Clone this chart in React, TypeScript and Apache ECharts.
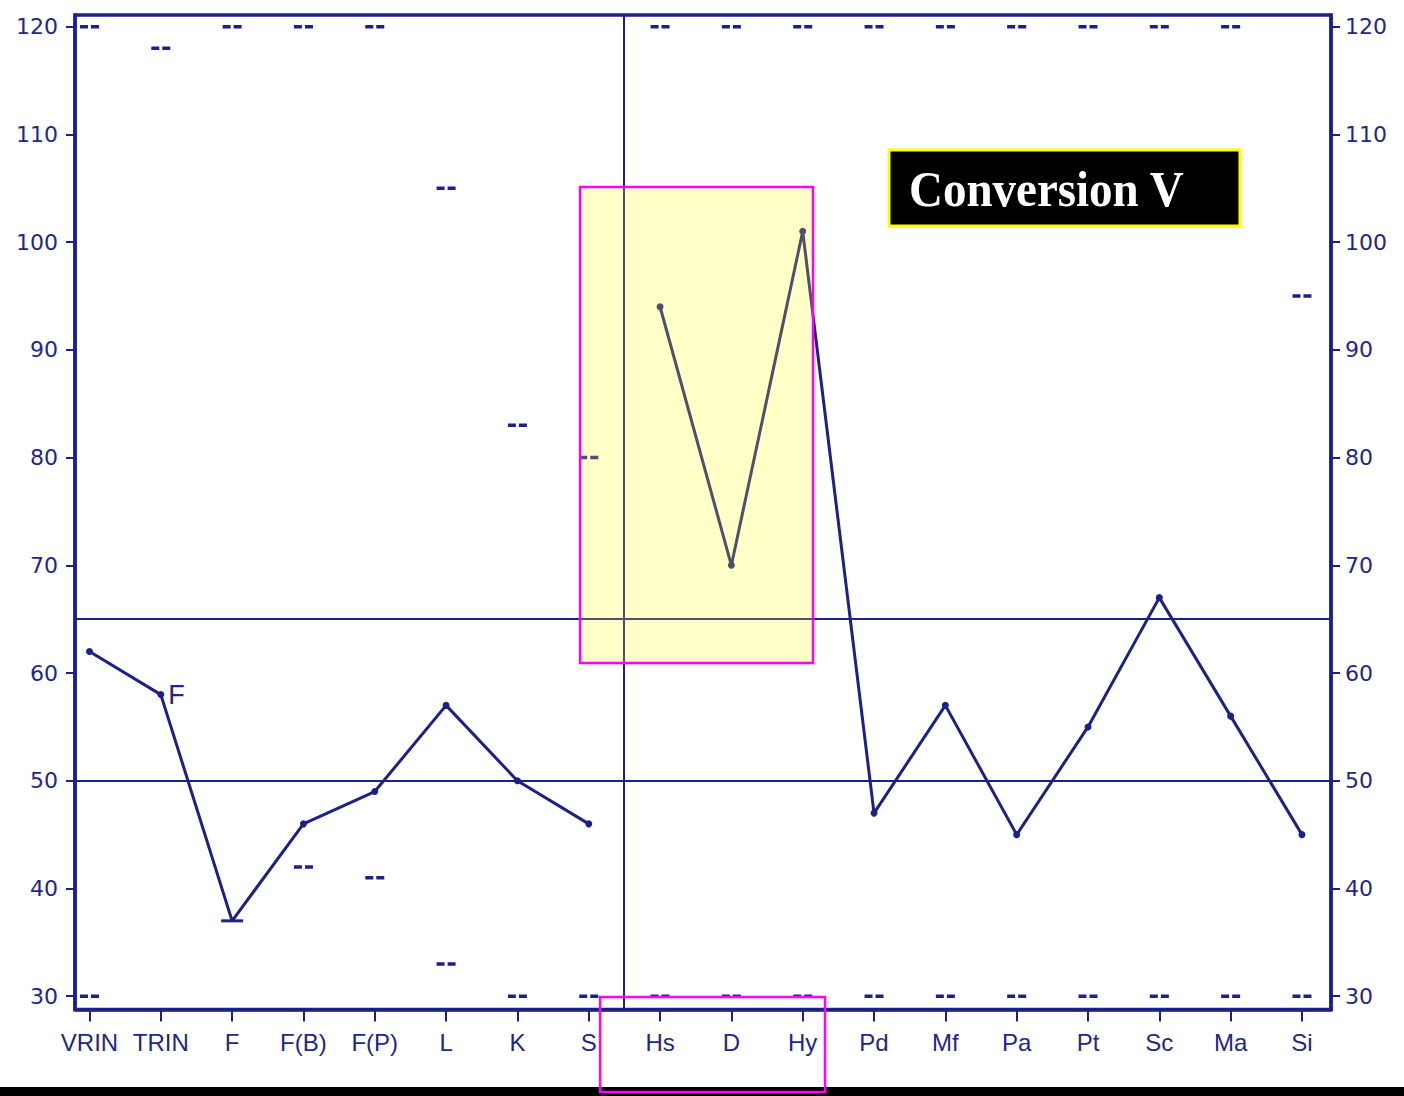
import React, { useEffect, useRef } from "react";
import * as echarts from "echarts";

const categories = ["VRIN", "TRIN", "F", "F(B)", "F(P)", "L", "K", "S", "Hs", "D", "Hy", "Pd", "Mf", "Pa", "Pt", "Sc", "Ma", "Si"];
const validityScores = [62, 58, 37, 46, 49, 57, 50, 46]; // VRIN .. S
const clinicalScores = [94, 70, 101, 47, 57, 45, 55, 67, 56, 45]; // Hs .. Si
const upperMarks = [120, 118, 120, 120, 120, 105, 83, 80, 120, 120, 120, 120, 120, 120, 120, 120, 120, 95];
const lowerMarks = [30, null, null, 42, 41, 33, 30, 30, 30, 30, 30, 30, 30, 30, 30, 30, 30, 30];
const yTicks = [30, 40, 50, 60, 70, 80, 90, 100, 110, 120];
const referenceLines = [65, 50];
const dividerPosition = 7.49;
const trinLabel = "F";
const annotationText = "Conversion V";

const NAVY = "#1b2188";
const TEXT = "#1d2790";
const XFONT = "'Liberation Sans', Arial, sans-serif";
const YFONT = "'DejaVu Sans', 'Liberation Sans', sans-serif";
const DASH = "path://M0 0H8V3H0ZM11 0H19V3H11Z";
const FLOOR = "path://M0 0H20V3H0Z";

export default function App() {
  const ref = useRef<HTMLDivElement>(null);
  useEffect(() => {
    if (!ref.current) return;
    const chart = echarts.init(ref.current, null, { renderer: "svg" });
    const xIdx = categories.map((_, i) => i);

    const validityData = validityScores.map((v, i) => {
      const item: any = { value: [i, v] };
      if (i === 1) {
        item.label = {
          show: true,
          position: "right",
          distance: 4,
          formatter: trinLabel,
          fontSize: 27,
          color: TEXT,
          fontFamily: XFONT,
        };
      }
      if (i === 2) {
        item.symbol = FLOOR;
        item.symbolSize = [22, 3];
      }
      return item;
    });
    const clinicalData = clinicalScores.map((v, i) => [i + 8, v]);

    const yAxisBase = (pos: "left" | "right") => ({
      type: "value",
      position: pos,
      min: 28.77,
      max: 121.08,
      axisLine: { show: true, onZero: false, lineStyle: { color: NAVY, width: 3.5 } },
      axisTick: { show: true, customValues: yTicks, length: 9, lineStyle: { color: NAVY, width: 2 } },
      axisLabel: {
        show: true,
        customValues: yTicks,
        margin: pos === "left" ? 17 : 14,
        fontSize: 22,
        color: TEXT,
        fontFamily: YFONT,
      },
      splitLine: { show: false },
    });

    chart.setOption({
      animation: false,
      backgroundColor: "#ffffff",
      grid: {
        left: 75,
        right: 73,
        top: 15,
        bottom: 86.5,
        show: true,
        borderColor: NAVY,
        borderWidth: 3.5,
        backgroundColor: "transparent",
      },
      xAxis: {
        type: "value",
        min: -0.203,
        max: 17.407,
        axisLine: { show: true, onZero: false, lineStyle: { color: NAVY, width: 3.5 } },
        axisTick: { show: true, customValues: xIdx, length: 12, lineStyle: { color: NAVY, width: 2 } },
        axisLabel: {
          show: true,
          customValues: xIdx,
          formatter: (v: number) => categories[Math.round(v)] ?? "",
          margin: 21,
          fontSize: 24,
          color: TEXT,
          fontFamily: XFONT,
        },
        splitLine: { show: false },
      },
      yAxis: [yAxisBase("left"), yAxisBase("right")],
      series: [
        {
          type: "line",
          data: validityData,
          symbol: "circle",
          symbolSize: 7,
          itemStyle: { color: NAVY },
          lineStyle: { color: NAVY, width: 3 },
          z: 3,
          markLine: {
            silent: true,
            symbol: "none",
            label: { show: false },
            lineStyle: { color: NAVY, width: 2, type: "solid" },
            data: [
              ...referenceLines.map((y) => ({ yAxis: y })),
              { xAxis: dividerPosition },
            ],
          },
        },
        {
          type: "line",
          data: clinicalData,
          symbol: "circle",
          symbolSize: 7,
          itemStyle: { color: NAVY },
          lineStyle: { color: NAVY, width: 3 },
          z: 3,
        },
        {
          type: "scatter",
          data: upperMarks.map((v, i) => [i, v]),
          symbol: DASH,
          symbolSize: [19, 3.5],
          itemStyle: { color: NAVY, opacity: 1 },
          z: 2,
        },
        {
          type: "scatter",
          data: lowerMarks.map((v, i) => (v == null ? [i, "-"] : [i, v])),
          symbol: DASH,
          symbolSize: [19, 3.5],
          itemStyle: { color: NAVY, opacity: 1 },
          z: 2,
        },
      ],
      graphic: [
        {
          type: "rect",
          z: 100,
          shape: { x: 580, y: 187, width: 233, height: 476 },
          style: { fill: "rgba(255,255,0,0.22)", stroke: "#ff00ff", lineWidth: 2.5 },
        },
        {
          type: "rect",
          z: 99,
          shape: { x: 0, y: 1087, width: 1404, height: 9 },
          style: { fill: "#000000" },
        },
        {
          type: "rect",
          z: 101,
          shape: { x: 600, y: 997, width: 225, height: 95 },
          style: { fill: "none", stroke: "#ff00ff", lineWidth: 2.5 },
        },
        {
          type: "group",
          z: 102,
          children: [
            {
              type: "rect",
              z: 102,
              shape: { x: 889, y: 150, width: 351, height: 76 },
              style: { fill: "#000000", stroke: "#ffff00", lineWidth: 3 },
            },
            {
              type: "text",
              z: 103,
              x: 909,
              y: 189,
              scaleY: 1.08,
              style: {
                text: annotationText,
                fill: "#ffffff",
                font: "bold 47px 'Liberation Serif', 'Times New Roman', serif",
                verticalAlign: "middle",
                align: "left",
              },
            },
          ],
        },
      ],
    });
    return () => chart.dispose();
  }, []);

  return (
    <div
      ref={ref}
      style={{ position: "absolute", left: 0, top: 0, width: 1404, height: 1096, background: "#ffffff" }}
    />
  );
}
